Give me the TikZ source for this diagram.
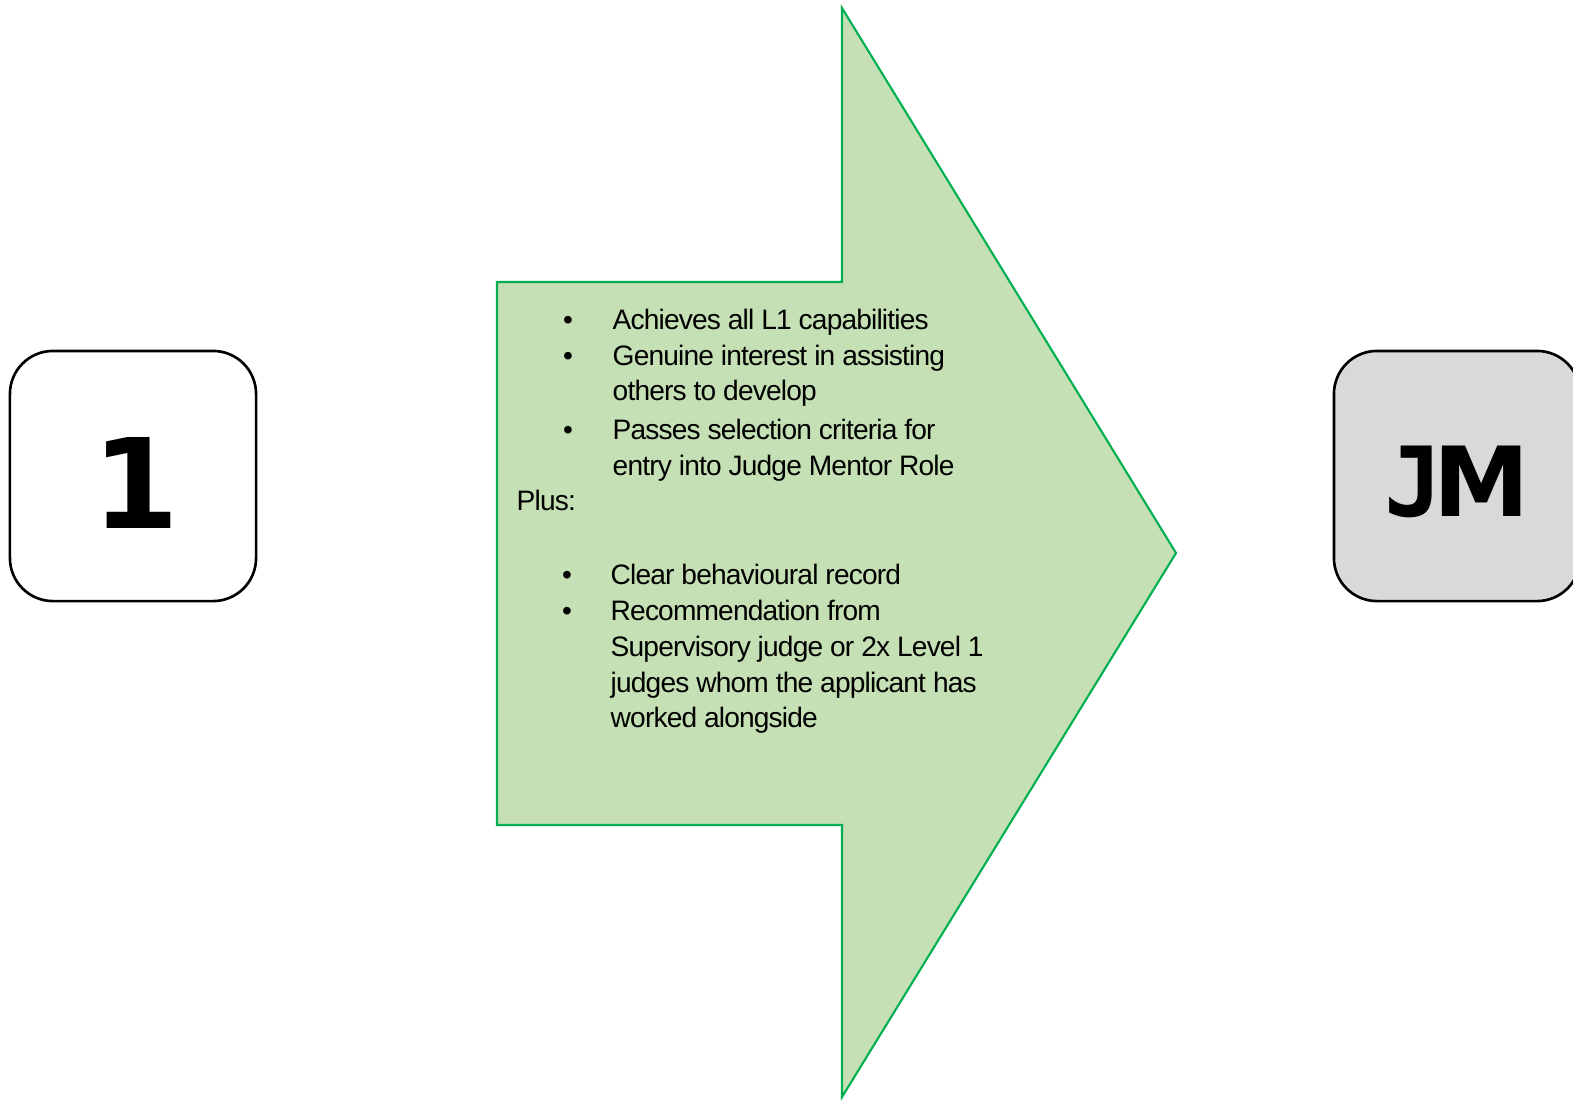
\documentclass[tikz,border=0pt]{standalone}
\usepackage{fontspec}
\setmainfont{Liberation Sans}
\newfontfamily\bodyfont[LetterSpace=-3]{Liberation Sans}
\newfontfamily\numfont{DejaVu Sans}
\newfontfamily\nummono{DejaVu Sans Mono}
\definecolor{arrowfill}{HTML}{C5E0B4}
\definecolor{arrowline}{HTML}{00B050}
\definecolor{boxgrey}{HTML}{D9D9D9}
\begin{document}
\begin{tikzpicture}[x=0.01cm,y=-0.01cm,
  arrowshape/.style={fill=arrowfill,draw=arrowline,line width=0.6pt,line join=miter},
  levelbox/.style={draw=black,line width=0.75pt,rounded corners=0.43cm,minimum width=2.46cm,minimum height=2.50cm,inner sep=0pt},
  bignum/.style={anchor=base,inner sep=0pt,font=\numfont\bfseries\fontsize{35.5pt}{40pt}\selectfont},
  bigabbr/.style={anchor=base,inner sep=0pt,font=\numfont\bfseries\fontsize{27.5pt}{32pt}\selectfont},
  txt/.style={anchor=base west,inner sep=0pt,font=\bodyfont\fontsize{8pt}{10pt}\selectfont},
  bul/.style={anchor=base,inner sep=0pt,font=\bodyfont\fontsize{8pt}{10pt}\selectfont}]
\useasboundingbox (0,0) rectangle (1573,1102);
% big arrow
\path[arrowshape] (497,282) -- (842,282) -- (842,8) -- (1176,553) -- (842,1097) -- (842,825) -- (497,825) -- cycle;
% boxes
\node[levelbox,fill=white] (b1) at (133,476) {};
\node[levelbox,fill=boxgrey] (bjm) at (1457,476) {};
\node[bignum] (n1) at (136,528) {1};
\node[bigabbr] (njm) at (1457,516) {{\nummono J}\kern-0.1em M};
% text
\node[bul] (u1) at (568,329) {\textbullet};
\node[txt] (t1) at (612,329) {Achieves all L1 capabilities};
\node[bul] (u2) at (568,365) {\textbullet};
\node[txt] (t2) at (612,365) {Genuine interest in assisting};
\node[txt] (t3) at (612,400) {others to develop};
\node[bul] (u3) at (568,439) {\textbullet};
\node[txt] (t4) at (612,439) {Passes selection criteria for};
\node[txt] (t5) at (612,475) {entry into Judge Mentor Role};
\node[txt] (t6) at (516,510) {Plus:};
\node[bul] (u4) at (567,584) {\textbullet};
\node[txt] (t7) at (610,584) {Clear behavioural record};
\node[bul] (u5) at (567,620) {\textbullet};
\node[txt] (t8) at (610,620) {Recommendation from};
\node[txt] (t9) at (610,656) {Supervisory judge or 2x Level 1};
\node[txt] (t10) at (610,692) {judges whom the applicant has};
\node[txt] (t11) at (610,727) {worked alongside};
\end{tikzpicture}
\end{document}
